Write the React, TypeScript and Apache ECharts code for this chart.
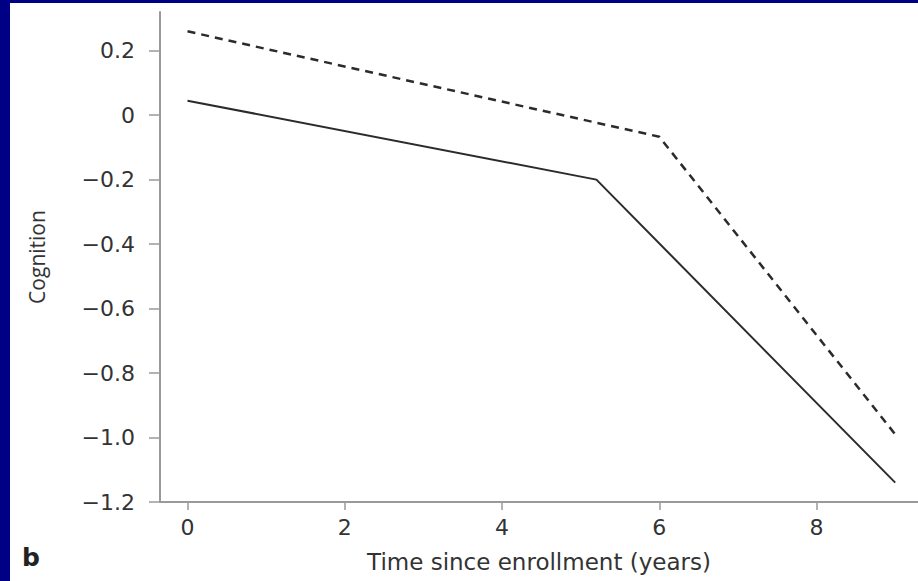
import React, { useEffect, useRef } from "react";
import * as echarts from "echarts";

const timeSolid = [0, 5.2, 9];
const cognitionSolid = [0.045, -0.2, -1.14];
const timeDashed = [0, 6, 9];
const cognitionDashed = [0.26, -0.067, -0.99];
const xTicks = [0, 2, 4, 6, 8];
const yTicks = [-1.2, -1.0, -0.8, -0.6, -0.4, -0.2, 0, 0.2];

const fmtY = (v: number) => {
  if (Math.abs(v) < 1e-9) return "0";
  return (v < 0 ? "\u2212" : "") + Math.abs(v).toFixed(1);
};

export default function App() {
  const ref = useRef<HTMLDivElement>(null);
  useEffect(() => {
    if (!ref.current) return;
    const chart = echarts.init(ref.current, null, { renderer: "svg" });
    const textColor = "#333333";
    const axisColor = "#9a9a9a";
    chart.setOption({
      animation: false,
      backgroundColor: "#ffffff",
      grid: { left: 150, right: 0, top: 9, bottom: 79 },
      xAxis: {
        type: "value",
        min: -0.35,
        max: 9.29,
        name: "Time since enrollment (years)",
        nameLocation: "middle",
        nameGap: 48,
        nameTextStyle: { fontFamily: "DejaVu Sans", fontSize: 23, color: textColor },
        axisLine: { show: true, onZero: false, lineStyle: { color: axisColor, width: 2 } },
        axisTick: { show: true, length: 8, customValues: xTicks, lineStyle: { color: axisColor, width: 1.5 } },
        axisLabel: {
          customValues: xTicks,
          margin: 14,
          fontFamily: "DejaVu Sans",
          fontSize: 22,
          color: textColor,
          formatter: (v: number) => String(v),
        },
        splitLine: { show: false },
      },
      yAxis: {
        type: "value",
        min: -1.2,
        max: 0.32,
        name: "Cognition",
        nameLocation: "middle",
        nameGap: 113,
        nameTextStyle: { fontFamily: "Open Sans", fontSize: 21, color: textColor },
        axisLine: { show: true, onZero: false, lineStyle: { color: axisColor, width: 2 } },
        axisTick: { show: true, length: 11, customValues: yTicks, lineStyle: { color: axisColor, width: 1.5 } },
        axisLabel: {
          customValues: yTicks,
          margin: 25,
          fontFamily: "DejaVu Sans",
          fontSize: 22,
          color: textColor,
          formatter: fmtY,
        },
        splitLine: { show: false },
      },
      graphic: [
        {
          type: "text",
          left: 12,
          top: 542,
          style: { text: "b", font: "bold 25px 'DejaVu Sans'", fill: "#222" },
        },
      ],
      series: [
        {
          type: "line",
          data: timeSolid.map((t, i) => [t, cognitionSolid[i]]),
          symbol: "none",
          lineStyle: { color: "#2b2b2b", width: 2 },
        },
        {
          type: "line",
          data: timeDashed.map((t, i) => [t, cognitionDashed[i]]),
          symbol: "none",
          lineStyle: { color: "#2b2b2b", width: 2.5, type: [8, 6] },
        },
      ],
    });
    return () => chart.dispose();
  }, []);
  return (
    <div style={{ position: "fixed", left: 0, top: 0, width: 918, height: 581, background: "#000086" }}>
      <div ref={ref} style={{ position: "absolute", left: 10, top: 3, width: 908, height: 578 }} />
    </div>
  );
}
